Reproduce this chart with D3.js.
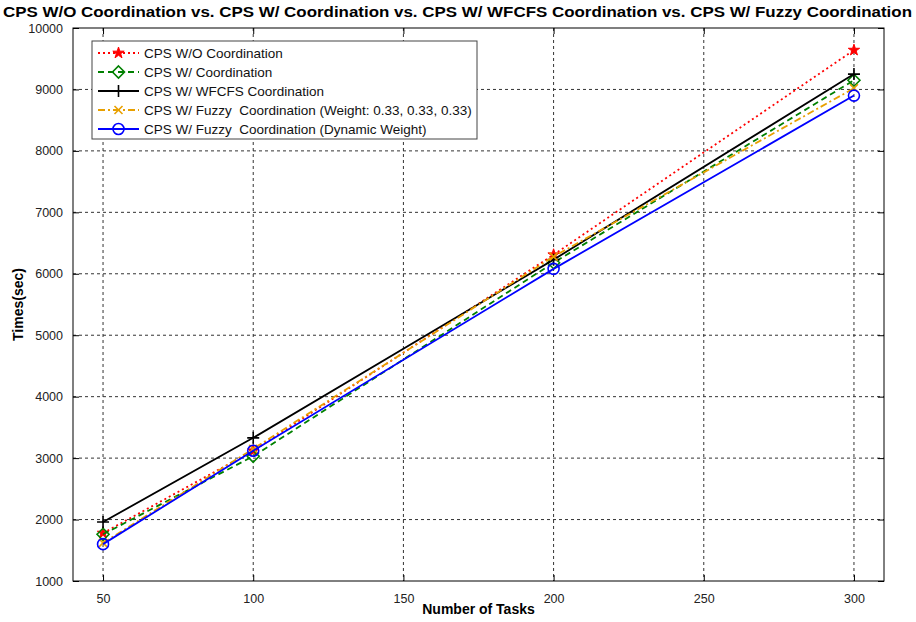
<!DOCTYPE html>
<html><head><meta charset="utf-8">
<script src="https://cdn.jsdelivr.net/npm/d3@7"></script>
<style>body{margin:0;background:#fff}svg{display:block}text{font-family:"Liberation Sans",Arial,sans-serif}</style>
</head><body><svg id="c" width="916" height="622"></svg>
<script>
const tasks = [50, 100, 200, 300];
const seriesNames = [
  "CPS W/O Coordination",
  "CPS W/ Coordination",
  "CPS W/ WFCFS Coordination",
  "CPS W/ Fuzzy  Coordination (Weight: 0.33, 0.33, 0.33)",
  "CPS W/ Fuzzy  Coordination (Dynamic Weight)"
];
const woCoord   = [1780, 3120, 6310, 9640];
const wCoord    = [1760, 3030, 6180, 9150];
const wfcfs     = [1960, 3330, 6230, 9250];
const fuzzyEq   = [1620, 3150, 6280, 9020];
const fuzzyDyn  = [1600, 3120, 6080, 8900];
const xTicks = [50, 100, 150, 200, 250, 300];
const yTicks = [1000, 2000, 3000, 4000, 5000, 6000, 7000, 8000, 9000, 10000];
const titleText = "CPS W/O Coordination vs. CPS W/ Coordination vs. CPS W/ WFCFS Coordination vs. CPS W/ Fuzzy Coordination";

const styles = [
  {color:"#ff0000", dash:"2,3", marker:"star"},
  {color:"#008000", dash:"6,4", marker:"diamond"},
  {color:"#000000", dash:null, marker:"plus"},
  {color:"#e8a000", dash:"7,3,2,3", marker:"x"},
  {color:"#0000ff", dash:null, marker:"circle"}
];
const data = [woCoord, wCoord, wfcfs, fuzzyEq, fuzzyDyn];

const svg = d3.select("#c");
const L = 73, R = 884, T = 28, B = 581;
const x = d3.scaleLinear().domain([40, 310]).range([L, R]);
const y = d3.scaleLinear().domain([1000, 10000]).range([B, T]);

// grid
const g = svg.append("g");
g.selectAll(".gx").data(xTicks).enter().append("line")
  .attr("x1", d=>x(d)).attr("x2", d=>x(d)).attr("y1", T).attr("y2", B)
  .attr("stroke", "#333").attr("stroke-width", 1).attr("stroke-dasharray", "3,3");
g.selectAll(".gy").data(yTicks.slice(1, -1)).enter().append("line")
  .attr("y1", d=>y(d)).attr("y2", d=>y(d)).attr("x1", L).attr("x2", R)
  .attr("stroke", "#333").attr("stroke-width", 1).attr("stroke-dasharray", "3,3");

// axes with inward ticks
const fmt = d3.format("d");
const axB = svg.append("g").attr("transform", `translate(0,${B})`)
  .call(d3.axisBottom(x).tickValues(xTicks).tickFormat(fmt).tickSizeInner(-6).tickSizeOuter(0).tickPadding(13));
const axT = svg.append("g").attr("transform", `translate(0,${T})`)
  .call(d3.axisTop(x).tickValues(xTicks).tickFormat("").tickSizeInner(-6).tickSizeOuter(0));
const axL = svg.append("g").attr("transform", `translate(${L},0)`)
  .call(d3.axisLeft(y).tickValues(yTicks).tickFormat(fmt).tickSizeInner(-6).tickSizeOuter(0).tickPadding(10));
const axR = svg.append("g").attr("transform", `translate(${R},0)`)
  .call(d3.axisRight(y).tickValues(yTicks).tickFormat("").tickSizeInner(-6).tickSizeOuter(0));
[axB, axT, axL, axR].forEach(a => {
  a.select(".domain").remove();
  a.selectAll("line").attr("stroke", "#000");
  a.selectAll("text").attr("font-size", 12.5).attr("fill", "#222")
    .style("font-family", '"Liberation Sans",Arial,sans-serif');
});
svg.append("rect").attr("x", L).attr("y", T).attr("width", R-L).attr("height", B-T)
  .attr("fill", "none").attr("stroke", "#000").attr("stroke-width", 1);

// marker drawing
function drawMarker(sel, type, color, cx, cy) {
  const s = sel.append("g").attr("transform", `translate(${cx},${cy})`);
  if (type === "star") {
    s.append("path").attr("d", d3.symbol().type(d3.symbolStar).size(40)())
      .attr("fill", color).attr("stroke", color).attr("stroke-width", 1);
  } else if (type === "diamond") {
    s.append("path").attr("d", "M0,-6L6,0L0,6L-6,0Z").attr("fill", "none")
      .attr("stroke", color).attr("stroke-width", 1.6);
  } else if (type === "plus") {
    s.append("path").attr("d", "M-6,0H6M0,-6V6").attr("stroke", color).attr("stroke-width", 1.6);
  } else if (type === "x") {
    s.append("path").attr("d", "M-4,-4L4,4M-4,4L4,-4").attr("stroke", color).attr("stroke-width", 1.6);
  } else if (type === "circle") {
    s.append("circle").attr("r", 5.5).attr("fill", "none").attr("stroke", color).attr("stroke-width", 1.6);
  }
}

const line = d3.line().x((d,i)=>x(tasks[i])).y(d=>y(d));
data.forEach((vals, k) => {
  const st = styles[k];
  svg.append("path").datum(vals).attr("d", line).attr("fill", "none")
    .attr("stroke", st.color).attr("stroke-width", 1.8)
    .attr("stroke-dasharray", st.dash);
  vals.forEach((v, i) => drawMarker(svg, st.marker, st.color, x(tasks[i]), y(v)));
});

// legend
const lg = svg.append("g");
lg.append("rect").attr("x", 92).attr("y", 41).attr("width", 385).attr("height", 98)
  .attr("fill", "#fff").attr("stroke", "#444").attr("stroke-width", 1);
seriesNames.forEach((name, k) => {
  const st = styles[k];
  const yy = 53 + k * 19;
  lg.append("line").attr("x1", 98).attr("x2", 139).attr("y1", yy).attr("y2", yy)
    .attr("stroke", st.color).attr("stroke-width", 1.8).attr("stroke-dasharray", st.dash);
  drawMarker(lg, st.marker, st.color, 118.5, yy);
  lg.append("text").attr("x", 144).attr("y", yy + 4.5).attr("font-size", 13.5)
    .style("white-space", "pre").attr("fill", "#111").text(name);
});

// title and axis labels
svg.append("text").attr("x", 3).attr("y", 17).attr("font-size", 14.5).attr("font-weight", "bold")
  .attr("textLength", 909).attr("lengthAdjust", "spacingAndGlyphs").text(titleText);
svg.append("text").attr("x", (L+R)/2).attr("y", 614).attr("text-anchor", "middle")
  .attr("font-size", 14).attr("font-weight", "bold").text("Number of Tasks");
svg.append("text").attr("transform", `translate(23,${(T+B)/2}) rotate(-90)`).attr("text-anchor", "middle")
  .attr("font-size", 14).attr("font-weight", "bold").text("Times(sec)");
</script></body></html>
